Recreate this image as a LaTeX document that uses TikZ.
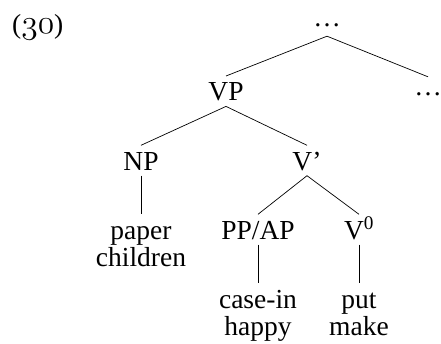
\documentclass[tikz,border=0pt]{standalone}
\usepackage{graphicx}
\usepackage{fontspec}
\setmainfont{Liberation Serif}
\newcommand{\osnum}[1]{\scalebox{1.35}{\usefont{OML}{lmm}{m}{it}#1}}
\tikzset{
  lab/.style={font=\fontsize{27.5}{27}\selectfont, inner xsep=0pt, inner ysep=5.5pt,
    text height=19pt, text depth=0pt, anchor=base},
  branch/.style={line width=0.7pt},
}
\begin{document}
\begin{tikzpicture}[x=1pt,y=-1pt]
\useasboundingbox (0,0) rectangle (441,343);
\node[lab, anchor=base west] (ex) at (12,33) {(\osnum{30})};
\node[lab, text depth=4.5pt] (top) at (327,26) {\ldots};
\node[lab] (vp) at (226,100.7) {VP};
\node[lab, text height=13pt] (rdots) at (428,95.5) {\ldots};
\node[lab] (np) at (141,170) {NP};
\node[lab] (vbar) at (307,170) {V'};
\node[lab] (ppap) at (258,239) {PP/AP};
\node[lab] (v0) at (359,239) {V\textsuperscript{0}};
\node[lab] (paper) at (141,239) {paper};
\node[lab] (children) at (141,266) {children};
\node[lab] (casein) at (258,308) {case-in};
\node[lab] (happy) at (258,335) {happy};
\node[lab] (put) at (359,308) {put};
\node[lab] (make) at (359,335) {make};
\draw[branch] (top.south) -- (vp.north);
\draw[branch] (top.south) -- (rdots.north);
\draw[branch] (vp.south) -- (np.north);
\draw[branch] (vp.south) -- (vbar.north);
\draw[branch] (np.south) -- (paper.north);
\draw[branch] (vbar.south) -- (ppap.north);
\draw[branch] (vbar.south) -- (v0.north);
\draw[branch] (ppap.south) -- (casein.north);
\draw[branch] (v0.south) -- (put.north);
\end{tikzpicture}
\end{document}
